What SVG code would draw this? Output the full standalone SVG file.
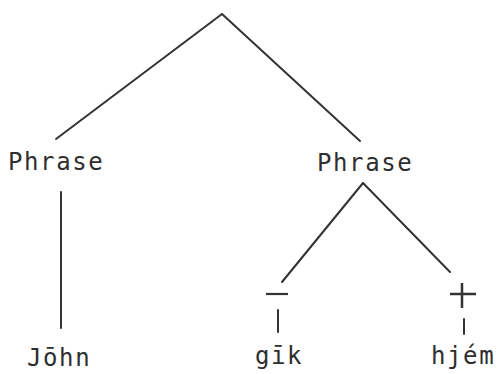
<svg xmlns="http://www.w3.org/2000/svg" width="498" height="374" viewBox="0 0 498 374">
<style>
.t{font-family:"DejaVu Sans Mono","Liberation Mono",monospace;font-size:24px;letter-spacing:1.6px;fill:#2e2e2e}
.c line{stroke:#333;stroke-width:2;stroke-linecap:round}
</style>
<rect width="498" height="374" fill="#fff"/>
<g class="c" id="connectors">
<line x1="222" y1="14" x2="56" y2="139"/>
<line x1="222" y1="14" x2="360" y2="141"/>
<line x1="61" y1="192" x2="61" y2="328"/>
<line x1="363" y1="183" x2="282" y2="282"/>
<line x1="363" y1="183" x2="450" y2="272"/>
<line x1="278" y1="310" x2="278" y2="332"/>
<line x1="464" y1="319" x2="464" y2="334"/>
</g>
<g id="phrase1"><text class="t" x="8" y="170">Phrase</text></g>
<g id="phrase2"><text class="t" x="317" y="171">Phrase</text></g>
<g id="minus"><line x1="266" y1="294" x2="288" y2="294" stroke="#333" stroke-width="2.2"/></g>
<g id="plus"><line x1="450" y1="294" x2="476" y2="294" stroke="#333" stroke-width="2.5"/><line x1="462" y1="283" x2="462" y2="308" stroke="#333" stroke-width="2.5"/></g>
<g id="john"><text class="t" x="27" y="366">Jōhn</text></g>
<g id="gik"><text class="t" x="255" y="364">gīk</text></g>
<g id="hjem"><text class="t" x="431" y="364">hjém</text></g>
</svg>
